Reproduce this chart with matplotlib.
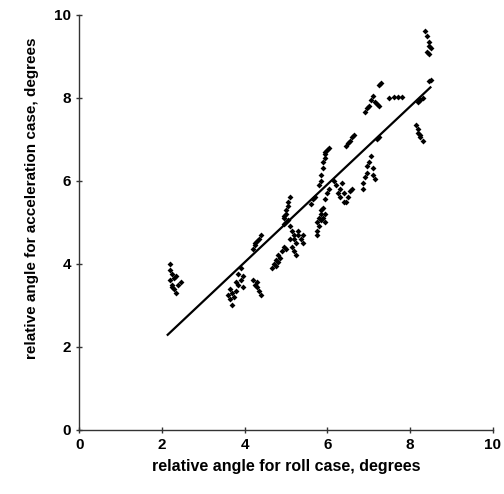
import numpy as np
import matplotlib.pyplot as plt

plt.rcParams['font.family'] = ['Liberation Sans', 'DejaVu Sans']

# points, grouped roughly by cluster
roll = [2.2, 2.2, 2.25, 2.2, 2.25, 2.3, 2.35, 2.3, 2.4, 2.45, 2.35, 2.25,
        3.7, 3.65, 3.6, 3.7, 3.65, 3.75, 3.8, 3.85, 3.9, 3.85, 3.9, 3.95, 3.95, 3.8,
        4.2, 4.25, 4.3, 4.35, 4.4, 4.3,
        4.2, 4.25, 4.3, 4.35, 4.4, 4.25,
        4.65, 4.7, 4.75, 4.8, 4.85, 4.9, 4.95, 5.0, 4.8, 4.75,
        5.0, 4.95, 5.0, 5.0, 5.05, 5.05, 5.1, 4.95,
        5.1, 5.15, 5.2, 5.2, 5.25, 5.1, 5.15, 5.2, 5.25, 5.3, 5.35, 5.4, 5.3, 5.4,
        5.75, 5.75, 5.8, 5.75, 5.8, 5.85, 5.85, 5.9, 5.95, 5.9, 5.95, 5.85,
        5.8, 5.85, 5.85, 5.9, 5.9, 5.95, 5.95, 6.0, 5.95, 6.05,
        6.15, 6.2, 6.3, 6.35, 6.3, 6.4, 6.45, 6.4, 6.5, 6.55, 6.6, 6.25,
        6.45, 6.5, 6.55, 6.6, 6.65,
        6.85, 6.85, 6.9, 6.95, 6.95, 7.0, 7.05, 7.1, 7.1, 7.15,
        6.9, 6.95, 7.0, 7.05, 7.1, 7.15, 7.2, 7.25, 7.25, 7.3,
        7.5, 7.6, 7.7, 7.8,
        8.15, 8.2, 8.2, 8.25, 8.3, 8.25,
        8.2, 8.3, 8.25,
        8.45, 8.5,
        8.35, 8.4, 8.45, 8.45, 8.4, 8.45, 8.5,
        7.2, 7.25, 5.6, 5.65, 5.7, 6.0, 6.05, 5.95, 4.95, 5.05]
accel = [4.0, 3.85, 3.75, 3.6, 3.5, 3.4, 3.3, 3.65, 3.5, 3.55, 3.7, 3.45,
         3.0, 3.15, 3.25, 3.3, 3.4, 3.2, 3.35, 3.5, 3.6, 3.75, 3.9, 3.7, 3.45, 3.55,
         3.6, 3.5, 3.45, 3.35, 3.25, 3.55,
         4.35, 4.45, 4.55, 4.6, 4.7, 4.5,
         3.9, 4.0, 4.1, 4.2, 4.15, 4.3, 4.4, 4.35, 4.05, 3.95,
         5.0, 5.1, 5.2, 5.3, 5.4, 5.5, 5.6, 5.15,
         4.9, 4.8, 4.7, 4.6, 4.5, 4.6, 4.4, 4.3, 4.2, 4.7, 4.6, 4.5, 4.8, 4.7,
         4.7, 4.8, 4.9, 5.0, 5.1, 5.2, 5.3, 5.1, 5.2, 5.35, 5.0, 5.05,
         5.9, 6.0, 6.15, 6.3, 6.45, 6.55, 6.65, 6.75, 6.7, 6.8,
         6.0, 5.9, 5.8, 5.95, 5.6, 5.7, 5.5, 5.5, 5.6, 5.75, 5.8, 5.7,
         6.85, 6.9, 6.95, 7.05, 7.1,
         5.8, 5.95, 6.1, 6.2, 6.35, 6.45, 6.6, 6.3, 6.15, 6.05,
         7.65, 7.75, 7.8, 7.95, 8.05, 7.9, 7.85, 7.8, 8.3, 8.35,
         8.0, 8.02, 8.03, 8.02,
         7.35, 7.25, 7.15, 7.05, 6.95, 7.1,
         7.9, 8.0, 7.95,
         8.4, 8.42,
         9.6, 9.5, 9.35, 9.25, 9.1, 9.05, 9.2,
         7.0, 7.05, 5.45, 5.55, 5.6, 5.7, 5.8, 5.55, 4.95, 5.05]

# trend line
slope = 0.939
intercept = 0.28
line_x = [2.14, 8.49]

fig = plt.figure(figsize=(5.04, 4.94), dpi=100)
ax = fig.add_axes([0.157, 0.13, 0.821, 0.84])

ax.plot(roll, accel, 'D', color='black', markersize=3.0, markeredgewidth=0)
lx = np.array(line_x)
ax.plot(lx, slope * lx + intercept, color='black', lw=1.6)

ax.set_xlim(0, 10)
ax.set_ylim(0, 10)
ax.set_xticks([0, 2, 4, 6, 8, 10])
ax.set_yticks([0, 2, 4, 6, 8, 10])
ax.spines['top'].set_visible(False)
ax.spines['right'].set_visible(False)
for s in ['left', 'bottom']:
    ax.spines[s].set_color('#333333')
    ax.spines[s].set_linewidth(1.0)
ax.tick_params(direction='inout', length=5, width=1, colors='#333333',
               labelcolor='black', labelsize=11)
for t in ax.get_xticklabels() + ax.get_yticklabels():
    t.set_fontweight('bold')

ax.set_xlabel('relative angle for roll case, degrees', fontsize=11.5,
              fontweight='bold', labelpad=5)
ax.set_ylabel('relative angle for acceleration case, degrees', fontsize=11,
              fontweight='bold')
ax.yaxis.set_label_coords(-0.097, 0.557)

fig.savefig('out.png', dpi=100)
